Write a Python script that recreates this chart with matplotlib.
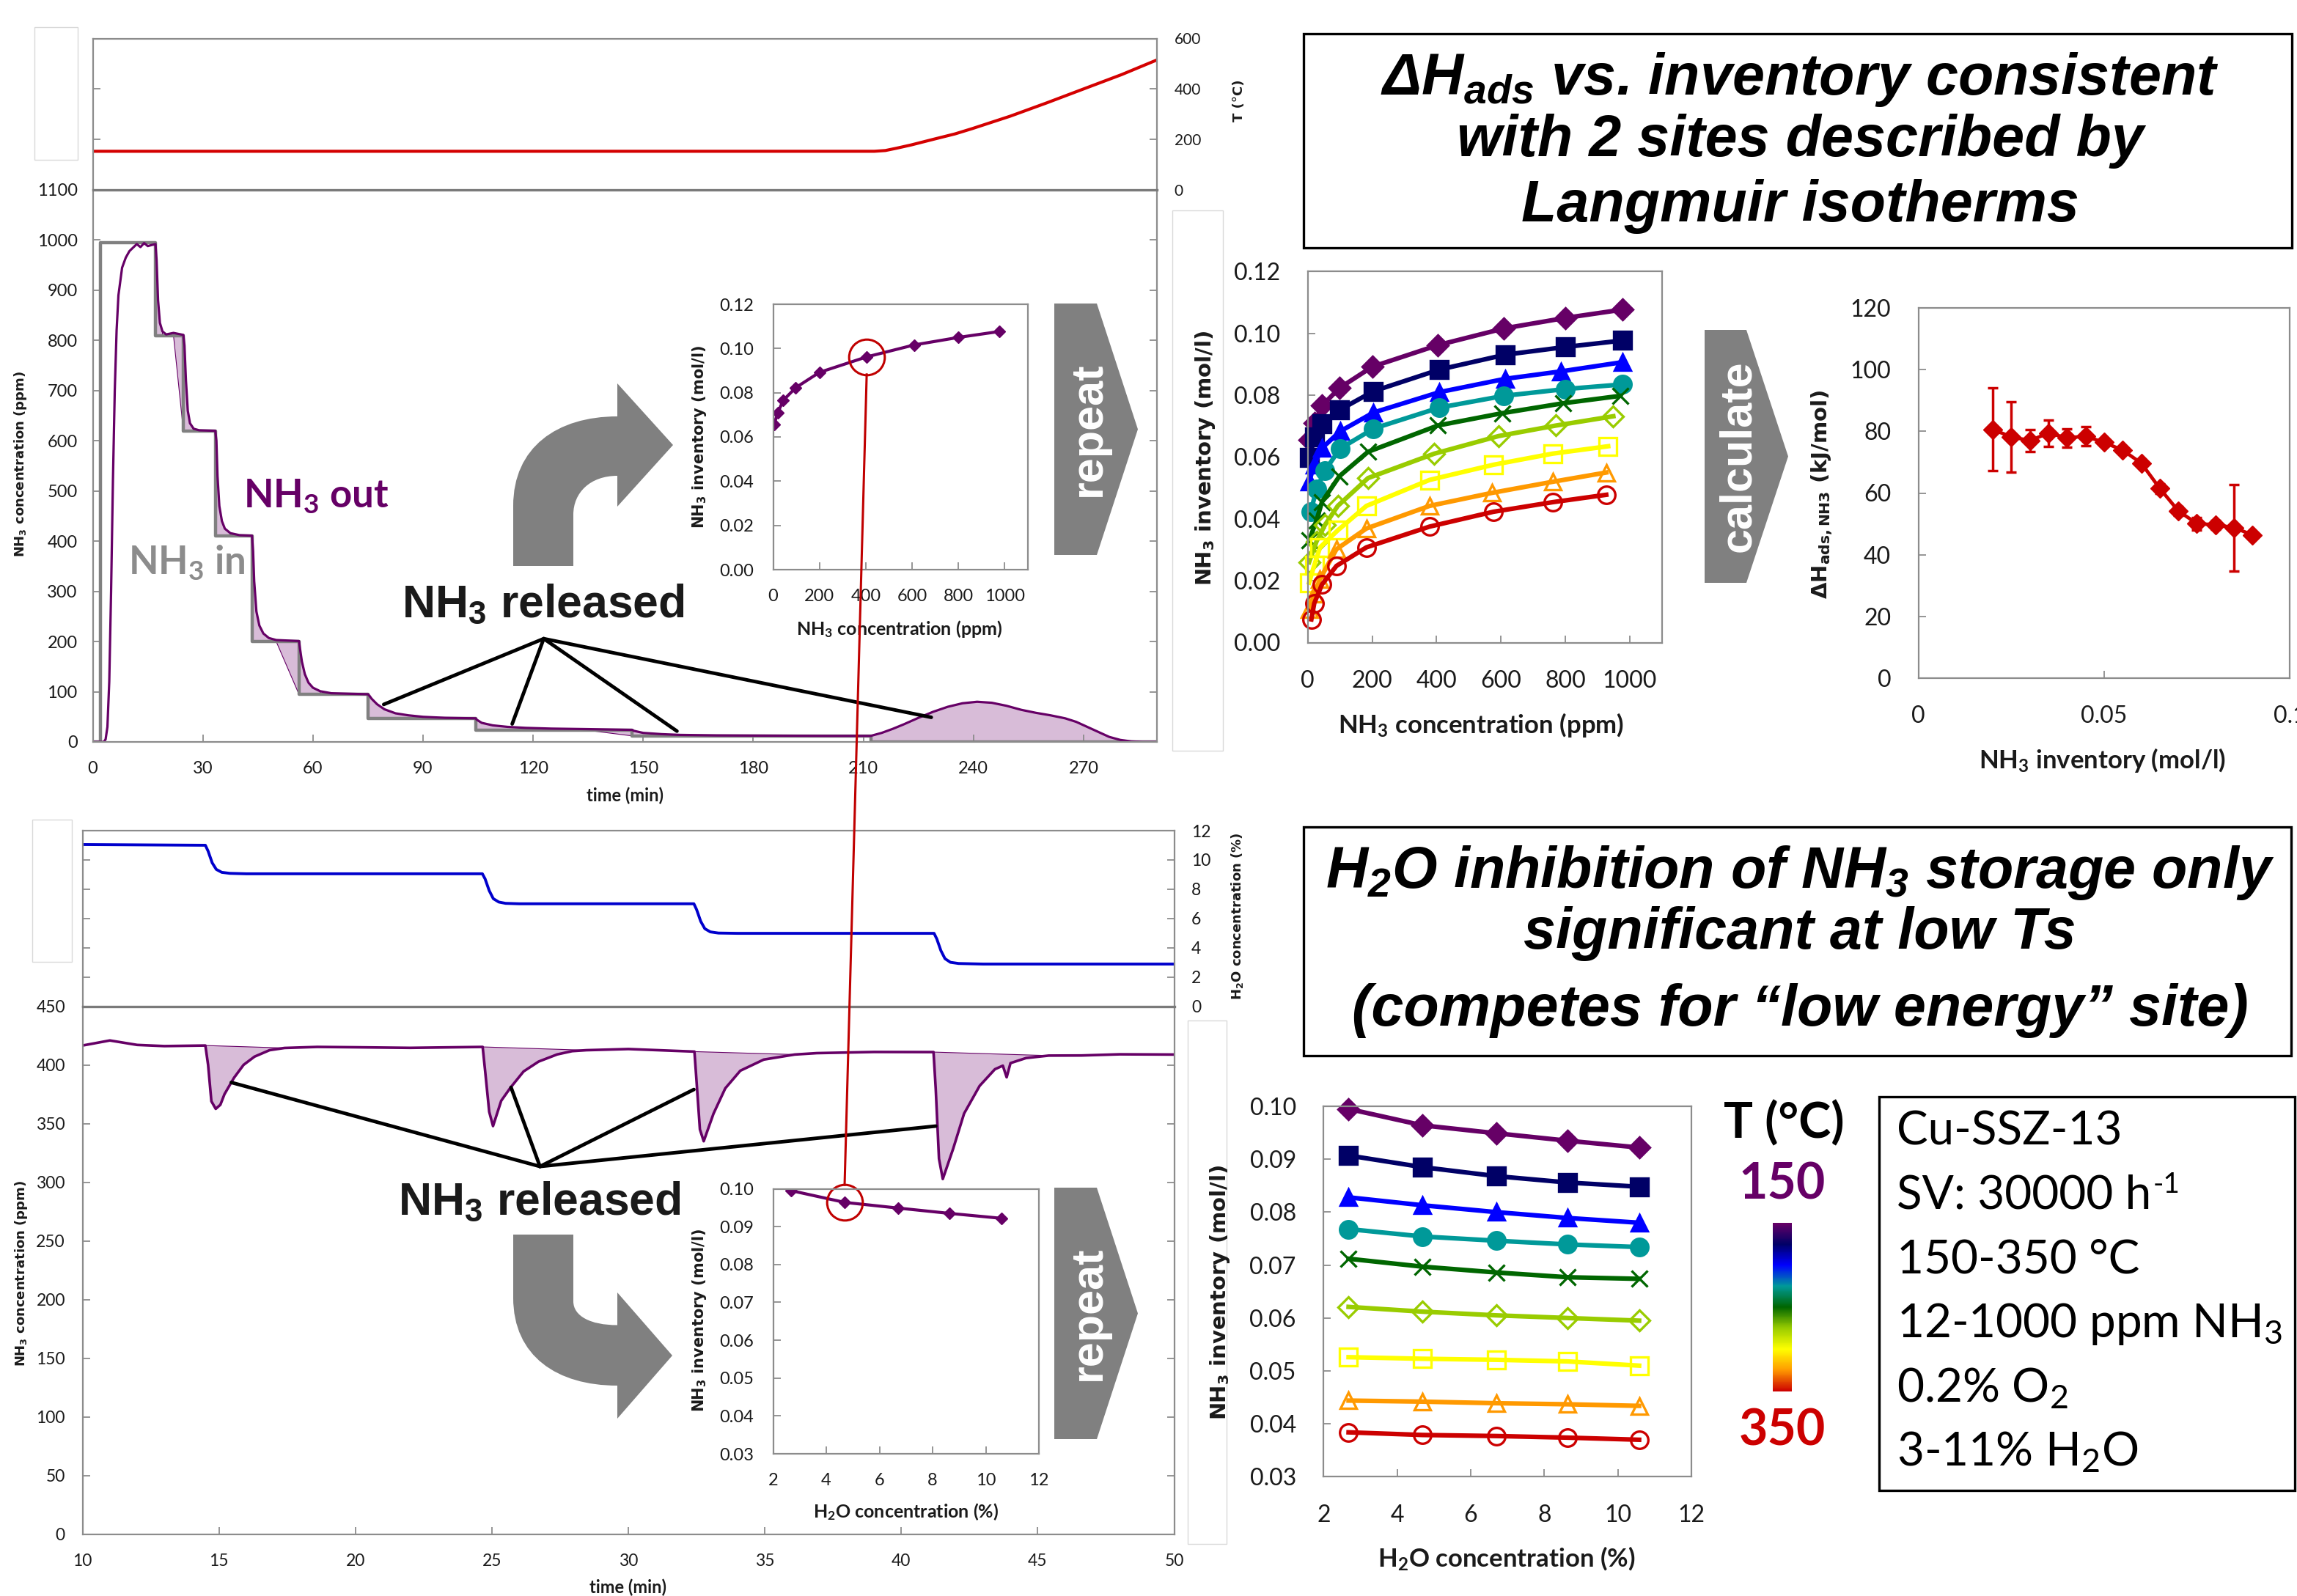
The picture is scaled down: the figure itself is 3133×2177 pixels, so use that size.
import numpy as np
import matplotlib
matplotlib.use("Agg")
import matplotlib.pyplot as plt
from matplotlib.path import Path
from matplotlib.patches import PathPatch, Polygon, Rectangle
from matplotlib.colors import LinearSegmentedColormap, Normalize
from matplotlib.cm import ScalarMappable
from matplotlib.ticker import FormatStrFormatter

plt.rcParams['font.family'] = ['Lato', 'DejaVu Sans']
plt.rcParams['mathtext.default'] = 'regular'

# ---------------- data ----------------
# top-left: step-down NH3 adsorption at 150 C, then TPD
temp_t = [0, 213, 216, 219, 223, 229.5, 235, 239.7, 250, 260, 270, 280.4, 290]
temp_c = [153, 153, 156, 165, 178, 202, 222, 243, 292, 345, 400, 457, 515]

in_t = [0, 2, 17.1, 24.7, 33.4, 43.4, 56.2, 75.0, 104.3, 147.0, 212.0, 290]
in_ppm = [0, 995, 810, 620, 410, 200, 95, 47, 23, 12, 0, 0]

out_t = [0, 3.0, 3.5, 4.0, 4.5, 5.0, 5.5, 6.0, 6.5, 7.0, 8.0, 9.0, 10.0, 11.0, 12.0, 13.0, 14.0, 15.0, 16.0, 17.1,
         17.4, 17.8, 18.3, 19.0, 20.0, 22.0, 24.7,
         25.0, 25.4, 25.9, 26.5, 27.5, 29.0, 33.4,
         33.7, 34.0, 34.5, 35.2, 36.0, 37.5, 40.0, 43.4,
         43.7, 44.0, 44.6, 45.4, 46.5, 48.0, 50.0, 56.2,
         56.5, 57.0, 57.8, 58.8, 60.0, 62.0, 65.0, 75.0,
         75.4, 76.0, 77.5, 79.5, 82.5, 86.0, 90.0, 96.0, 104.3,
         104.7, 106.0, 109.0, 113.0, 118.0, 125.0, 135.0, 147.0,
         147.5, 150.0, 155.0, 160.0, 170.0, 185.0, 200.0, 212.0,
         215.0, 218.0, 221.0, 225.0, 229.0, 233.0, 237.0, 241.0, 245.0, 249.0, 253.0, 257.0,
         261.0, 265.0, 268.0, 271.0, 274.0, 277.0, 280.0, 283.0, 286.0, 290.0]
out_ppm = [0, 0, 5, 30, 120, 300, 520, 700, 820, 890, 945, 965, 978, 985, 992, 986, 994, 988, 990, 992,
           960, 880, 835, 818, 812, 815, 811,
           790, 720, 660, 635, 624, 621, 620,
           600, 530, 470, 440, 425, 416, 412, 411,
           380, 320, 260, 232, 216, 207, 203, 201,
           185, 160, 135, 118, 108, 101, 97, 95,
           92, 86, 75, 65, 57, 53, 50, 48, 47,
           44, 38, 33, 30, 28, 26.5, 25.5, 24,
           22, 18, 15.5, 14, 13, 12.5, 12, 12,
           18, 26, 35, 48, 60, 70, 77, 80, 78, 72, 64, 58,
           53, 47, 40, 30, 20, 10, 4, 1, 0, 0]

# bottom-left: H2O step-down at constant NH3
h2o_t = [10, 14.5, 14.6, 14.75, 14.9, 15.1, 15.4, 16, 24.65, 24.75, 24.9, 25.05, 25.25, 25.5, 26,
         32.4, 32.5, 32.65, 32.8, 33.0, 33.3, 34, 41.2, 41.3, 41.45, 41.6, 41.8, 42.1, 43, 50]
h2o_pct = [11.05, 11.0, 10.6, 9.8, 9.35, 9.15, 9.08, 9.05, 9.05, 8.7, 7.9, 7.35, 7.12, 7.03, 7.0,
           7.0, 6.6, 5.8, 5.3, 5.08, 5.0, 4.98, 4.98, 4.6, 3.8, 3.25, 3.0, 2.92, 2.88, 2.88]

nh3_t = [10, 11.0, 12.0, 13.0, 14.5, 14.6, 14.72, 14.88, 15.05, 15.2, 15.55, 15.9, 16.3, 16.85, 17.4,
         18.6, 20, 22, 24.66, 24.75, 24.9, 25.04, 25.34, 25.68, 26.16, 26.71, 27.39, 27.94, 28.46, 30,
         32.42, 32.5, 32.62, 32.76, 33.12, 33.55, 34.1, 34.96, 36.09, 36.9, 39,
         41.18, 41.26, 41.38, 41.52, 41.9, 42.3, 42.87, 43.43, 43.72, 43.86, 44.0, 44.57, 45.4, 46.6, 48, 50]
nh3_ppm = [416.5, 420.8, 417, 416, 416.5, 400, 369, 362.5, 366, 375, 389, 400, 407, 412.5, 414.4,
           415.3, 415, 414.5, 415.3, 395, 360, 347.8, 369.4, 380.6, 394.4, 402.8, 408.9, 411.7, 412.5, 413.5,
           411.3, 385, 345, 334.9, 358.5, 380, 395, 404.5, 408.8, 410, 411,
           410.9, 380, 320, 302.7, 328.5, 358.5, 382.1, 396.3, 399.3, 389.4, 401.5, 405.8, 407.9, 408, 409, 408.8]
dip_windows = [(14.5, 17.4), (24.66, 28.46), (32.42, 36.09), (41.18, 45.4)]

# right: isotherms, 150 ... 350 C
temps = [150, 175, 200, 225, 250, 275, 300, 325, 350]
iso_conc = [
    [4, 20, 44, 98, 200, 404, 609, 800, 978],
    [4, 20, 44, 98, 204, 409, 613, 800, 978],
    [4, 20, 44, 100, 204, 409, 613, 786, 978],
    [9, 27, 53, 100, 204, 409, 609, 800, 978],
    [4, 27, 44, 98, 187, 404, 604, 793, 971],
    [4, 27, 53, 93, 187, 393, 593, 771, 949],
    [4, 20, 38, 93, 182, 378, 576, 760, 933],
    [4, 20, 38, 89, 182, 378, 571, 760, 927],
    [11, 20, 44, 89, 182, 378, 576, 760, 927],
]
iso_inv = [
    [0.0656, 0.0710, 0.0766, 0.0823, 0.0892, 0.0962, 0.1016, 0.1050, 0.1077],
    [0.0598, 0.0665, 0.0708, 0.0752, 0.0813, 0.0883, 0.0931, 0.0956, 0.0977],
    [0.0520, 0.0575, 0.0629, 0.0683, 0.0744, 0.0810, 0.0853, 0.0877, 0.0907],
    [0.0423, 0.0496, 0.0556, 0.0627, 0.0692, 0.0760, 0.0798, 0.0820, 0.0835],
    [0.0330, 0.0395, 0.0455, 0.0538, 0.0617, 0.0702, 0.0742, 0.0774, 0.0798],
    [0.0260, 0.0327, 0.0380, 0.0442, 0.0532, 0.0611, 0.0668, 0.0702, 0.0732],
    [0.0194, 0.0250, 0.0308, 0.0363, 0.0442, 0.0526, 0.0575, 0.0611, 0.0635],
    [0.0109, 0.0157, 0.0206, 0.0302, 0.0369, 0.0442, 0.0484, 0.0520, 0.0550],
    [0.0075, 0.0127, 0.0188, 0.0248, 0.0308, 0.0375, 0.0423, 0.0454, 0.0478],
]
water_h2o = [2.68, 4.69, 6.70, 8.63, 10.58]
water_inv = [
    [0.0995, 0.0964, 0.0949, 0.0935, 0.0922],
    [0.0907, 0.0885, 0.0868, 0.0856, 0.0848],
    [0.0828, 0.0813, 0.0800, 0.0789, 0.0780],
    [0.0768, 0.0754, 0.0746, 0.0739, 0.0734],
    [0.0712, 0.0697, 0.0686, 0.0677, 0.0674],
    [0.0621, 0.0612, 0.0605, 0.0600, 0.0595],
    [0.0526, 0.0523, 0.0521, 0.0518, 0.0510],
    [0.0444, 0.0442, 0.0439, 0.0437, 0.0434],
    [0.0384, 0.0379, 0.0377, 0.0374, 0.0370],
]
dh_inv = [0.020, 0.025, 0.030, 0.035, 0.040, 0.045, 0.050, 0.055, 0.060, 0.065, 0.070, 0.075, 0.080, 0.085, 0.090]
dh_val = [80.6, 78.2, 77.0, 79.4, 77.9, 78.4, 76.4, 73.9, 69.7, 61.5, 54.2, 50.1, 49.7, 48.8, 46.4]
dh_err = [13.4, 11.4, 3.5, 4.2, 3.0, 3.0, 1.0, 1.0, 1.0, 1.5, 1.5, 2.0, 1.5, 14.0, 1.0]

series_colors = ['#660066', '#000066', '#0000ff', '#009999', '#006600', '#99cc00', '#ffff00', '#ff9900', '#cc0000']
series_markers = ['D', 's', '^', 'o', 'x', 'D', 's', '^', 'o']
marker_sizes = {'D': 14, 's': 17, '^': 16, 'o': 17, 'x': 16}

info_lines = ['Cu-SSZ-13', 'SV: 30000 h', '150-350 °C', '12-1000 ppm NH$_3$', '0.2% O$_2$', '3-11% H$_2$O']

PURPLE = '#660066'
FILL = '#d8bcd8'
SPINE = '#8c8c8c'
TXT = '#1a1a1a'

W, H = 3133, 2177
fig = plt.figure(figsize=(W / 100, H / 100), dpi=100)


def px_axes(x0, y0, x1, y1, z=1):
    ax = fig.add_axes([x0 / W, 1 - y1 / H, (x1 - x0) / W, (y1 - y0) / H])
    ax.set_zorder(z)
    return ax


def excel_style(ax, size, pad):
    for s in ax.spines.values():
        s.set_color(SPINE)
        s.set_linewidth(1.6)
    ax.tick_params(direction='in', length=7, width=1.3, color=SPINE,
                   labelcolor=TXT, labelsize=size, pad=pad)


ov = px_axes(0, 0, W, H, z=2)
ov.set_xlim(0, W)
ov.set_ylim(H, 0)
ov.axis('off')


def label(x, y, s, size, rot=0, fam='Lato', weight='bold', color=TXT, ha='center', va='center', style='normal'):
    return ov.text(x, y, s, fontsize=size, rotation=rot, fontfamily=fam, fontweight=weight,
                   color=color, ha=ha, va=va, fontstyle=style)


# faint placeholder frames left over in the original
for (x0, y0, x1, y1) in [(47, 37, 106, 218), (44, 1118, 98, 1312), (1599, 287, 1668, 1024), (1620, 1392, 1673, 2106)]:
    ov.add_patch(Rectangle((x0, y0), x1 - x0, y1 - y0, facecolor='white', edgecolor='#d9d9d9', lw=1))

# ---------------- top-left ----------------
axT = px_axes(126.5, 52.5, 1578, 259)
excel_style(axT, 15, 17)
axT.plot(temp_t, temp_c, color='#d40000', lw=3)
axT.set_xlim(0, 290)
axT.set_ylim(0, 600)
axT.set_xticks([])
axT.set_yticks([0, 200, 400, 600])
axT.tick_params(axis='y', left=True, right=True, labelleft=False, labelright=True)
axT.spines['bottom'].set_visible(False)

axN = px_axes(126.5, 259, 1578, 1012)
excel_style(axN, 17, 15)
in_t_a = np.array(in_t)
in_p_a = np.array(in_ppm)
ot = np.array(out_t)
op = np.array(out_ppm)
inlet_here = in_p_a[np.searchsorted(in_t_a, ot, side='right') - 1]
axN.plot(in_t, in_ppm, drawstyle='steps-post', color='#808080', lw=3.2)
axN.fill_between(ot, inlet_here, op, where=op > inlet_here + 2, facecolor=FILL, edgecolor=PURPLE, lw=0.8)
axN.plot(ot, op, color=PURPLE, lw=2.3)
axN.set_xlim(0, 290)
axN.set_ylim(0, 1100)
axN.set_xticks(np.arange(0, 271, 30))
axN.set_yticks(np.arange(0, 1101, 100))
axN.tick_params(axis='y', right=True)
axN.tick_params(axis='x', pad=19)
axN.spines['top'].set_color('#7a7a7a')
axN.spines['top'].set_linewidth(2.4)

# released lines, top
apex = (122.9, 205.7)
for end in [(79.3, 74.7), (114.3, 35.8), (159.2, 21.5), (228.5, 49.0)]:
    axN.plot([apex[0], end[0]], [apex[1], end[1]], color='black', lw=3.5, solid_capstyle='round')

label(28.5, 633, 'NH$_3$ concentration (ppm)', 13, rot=90, fam='DejaVu Sans')
label(1690, 137, 'T (°C)', 13, rot=90, fam='DejaVu Sans')
label(852, 1085, 'time (min)', 17)
label(175, 784, 'NH$_3$ in', 38, color='#8c8c8c', ha='left', va='baseline')
label(332, 693, 'NH$_3$ out', 38, color=PURPLE, ha='left', va='baseline')
label(548, 842, 'NH$_3$ released', 45, fam='Liberation Sans', ha='left', va='baseline')

# ---------------- bottom-left ----------------
axW = px_axes(112.6, 1133, 1601.6, 1372.5)
excel_style(axW, 16.5, 17)
axW.plot(h2o_t, h2o_pct, color='#0000cc', lw=2.8)
axW.set_xlim(10, 50)
axW.set_ylim(0, 12)
axW.set_xticks([])
axW.set_yticks(np.arange(0, 13, 2))
axW.tick_params(axis='y', left=True, right=True, labelleft=False, labelright=True)
axW.spines['bottom'].set_visible(False)

axB = px_axes(112.6, 1372.5, 1601.6, 2092.6)
excel_style(axB, 16.5, 17)
nt = np.array(nh3_t)
npm = np.array(nh3_ppm)
for t0, t1 in dip_windows:
    m = (nt >= t0) & (nt <= t1)
    axB.fill(nt[m], npm[m], facecolor=FILL, edgecolor=PURPLE, lw=0.8)
axB.plot(nh3_t, nh3_ppm, color=PURPLE, lw=2.6)
axB.set_xlim(10, 50)
axB.set_ylim(0, 450)
axB.set_xticks(np.arange(10, 51, 5))
axB.set_yticks(np.arange(0, 451, 50))
axB.tick_params(axis='y', right=True)
axB.tick_params(axis='x', pad=19)
axB.spines['top'].set_color('#7a7a7a')
axB.spines['top'].set_linewidth(2.4)

apex2 = (26.76, 313.4)
for end in [(15.45, 385.0), (25.7, 380.8), (32.4, 379.0), (41.26, 347.8)]:
    axB.plot([apex2[0], end[0]], [apex2[1], end[1]], color='black', lw=3.5, solid_capstyle='round')

label(29.5, 1737, 'NH$_3$ concentration (ppm)', 13, rot=90, fam='DejaVu Sans')
label(1687, 1250, 'H$_2$O concentration (%)', 13, rot=90, fam='DejaVu Sans')
label(857, 2165, 'time (min)', 17)
label(543, 1657, 'NH$_3$ released', 45, fam='Liberation Sans', ha='left', va='baseline')

# ---------------- curved arrows & chevrons ----------------
M, L, C4, CP = Path.MOVETO, Path.LINETO, Path.CURVE4, Path.CLOSEPOLY
up_arrow = Path([(700, 772), (700, 690), (700, 610), (760, 568), (842, 568), (842, 523), (918, 607),
                 (842, 691), (842, 649), (805, 649), (782, 672), (782, 702), (782, 772), (700, 772)],
                [M, L, C4, C4, C4, L, L, L, L, C4, C4, C4, L, CP])
down_arrow = Path([(700, 1684), (782, 1684), (782, 1775), (782, 1795), (805, 1807.5), (842, 1807.5),
                   (842, 1763), (917, 1849), (842, 1935), (842, 1890), (760, 1890), (700, 1850), (700, 1770),
                   (700, 1684)],
                  [M, L, L, C4, C4, C4, L, L, L, L, C4, C4, C4, CP])
for p in (up_arrow, down_arrow):
    ov.add_patch(PathPatch(p, facecolor='#808080', edgecolor='none'))


def chevron(x0, x1, tip, y0, y1, word):
    ym = (y0 + y1) / 2
    ov.add_patch(Polygon([(x0, y0), (x1, y0), (tip, ym), (x1, y1), (x0, y1)], closed=True,
                         facecolor='#808080', edgecolor='none'))
    label((x0 + x1) / 2 + 18, ym, word, 44, rot=90, fam='Liberation Sans', color='white')


chevron(1438, 1496, 1552, 414, 757, 'repeat')
chevron(1438, 1496, 1552, 1620, 1963, 'repeat')
chevron(2325, 2382, 2439, 450, 795, 'calculate')

# ---------------- insets ----------------
axI1 = px_axes(1054.5, 415, 1402, 777, z=3)
excel_style(axI1, 17, 19)
axI1.plot(iso_conc[0], iso_inv[0], color=PURPLE, lw=3, marker='D', ms=8)
axI1.plot(iso_conc[0][5], iso_inv[0][5], 'o', ms=35, mfc='none', mec='#c00000', mew=2.2, clip_on=False)
axI1.set_xlim(0, 1100)
axI1.set_ylim(0, 0.12)
axI1.set_xticks(np.arange(0, 1001, 200))
axI1.set_yticks(np.arange(0, 0.121, 0.02))
axI1.yaxis.set_major_formatter(FormatStrFormatter('%.2f'))
label(953.6, 595.5, 'NH$_3$ inventory (mol/l)', 15, rot=90, fam='DejaVu Sans')
label(1227, 857.5, 'NH$_3$ concentration (ppm)', 18)

axI2 = px_axes(1054.5, 1621.5, 1417, 1983, z=3)
excel_style(axI2, 17, 19)
axI2.plot(water_h2o, water_inv[0], color=PURPLE, lw=3, marker='D', ms=8)
axI2.plot(water_h2o[1], water_inv[0][1], 'o', ms=35, mfc='none', mec='#c00000', mew=2.2, clip_on=False)
axI2.set_xlim(2, 12)
axI2.set_ylim(0.03, 0.10)
axI2.set_xticks(np.arange(2, 13, 2))
axI2.set_yticks(np.arange(0.03, 0.1001, 0.01))
axI2.yaxis.set_major_formatter(FormatStrFormatter('%.2f'))
label(953.6, 1800.5, 'NH$_3$ inventory (mol/l)', 15, rot=90, fam='DejaVu Sans')
label(1236, 2062.5, 'H$_2$O concentration (%)', 18)

# ---------------- right side ----------------
title1 = ['ΔH$_{ads}$ vs. inventory consistent', 'with 2 sites described by', 'Langmuir isotherms']
for s, yb in zip(title1, [129, 213, 302]):
    label(2455, yb, s, 57, fam='Liberation Sans', style='italic', va='baseline', color='black')
ov.add_patch(Rectangle((1778, 46), 1348, 292, fill=False, edgecolor='black', lw=2.4))

title2 = ['H$_2$O inhibition of NH$_3$ storage only', 'significant at low Ts', '(competes for “low energy” site)']
for s, yb in zip(title2, [1211, 1294, 1399]):
    label(2455, yb, s, 57, fam='Liberation Sans', style='italic', va='baseline', color='black')
ov.add_patch(Rectangle((1778, 1128), 1347, 312, fill=False, edgecolor='black', lw=2.4))


def draw_series(ax, xs_list, ys_list, lw):
    for i, (xs, ys) in enumerate(zip(xs_list, ys_list)):
        mk = series_markers[i]
        col = series_colors[i]
        face = col if (i < 4 and mk != 'x') else 'none'
        ax.plot(xs, ys, color=col, lw=lw, marker=mk, ms=marker_sizes[mk], mfc=face, mec=col,
                mew=2.4, clip_on=False)


axG = px_axes(1783.8, 370.4, 2266.8, 876.5, z=3)
excel_style(axG, 23, 27)
draw_series(axG, iso_conc, iso_inv, 4.5)
axG.set_xlim(0, 1100)
axG.set_ylim(0, 0.12)
axG.set_xticks(np.arange(0, 1001, 200))
axG.set_yticks(np.arange(0, 0.121, 0.02))
axG.yaxis.set_major_formatter(FormatStrFormatter('%.2f'))
label(1644, 625, 'NH$_3$ inventory (mol/l)', 21, rot=90, fam='DejaVu Sans')
label(2020, 989, 'NH$_3$ concentration (ppm)', 25)

axH = px_axes(2616.8, 420, 3123, 925, z=3)
excel_style(axH, 23, 27)
axH.errorbar(dh_inv, dh_val, yerr=dh_err, color='#cc0000', lw=3.4, marker='D', ms=13,
             capsize=5, capthick=2.5, elinewidth=2.5)
axH.set_xlim(0, 0.1)
axH.set_ylim(0, 120)
axH.set_xticks([0, 0.05, 0.1])
axH.set_xticklabels(['0', '0.05', '0.1'])
axH.set_yticks(np.arange(0, 121, 20))
label(2485, 674, 'ΔH$_{ads,NH3}$ (kJ/mol)', 21, rot=90, fam='DejaVu Sans')
label(2868, 1037, 'NH$_3$ inventory (mol/l)', 25)

axWt = px_axes(1805.3, 1509, 2306.9, 2014.4, z=3)
excel_style(axWt, 23, 27)
draw_series(axWt, [water_h2o] * len(water_inv), water_inv, 4.5)
axWt.set_xlim(2, 12)
axWt.set_ylim(0.03, 0.10)
axWt.set_xticks(np.arange(2, 13, 2))
axWt.set_yticks(np.arange(0.03, 0.1001, 0.01))
axWt.yaxis.set_major_formatter(FormatStrFormatter('%.2f'))
label(1663.5, 1763, 'NH$_3$ inventory (mol/l)', 21, rot=90, fam='DejaVu Sans')
label(2055, 2126, 'H$_2$O concentration (%)', 25)

# temperature colour bar
norm = Normalize(temps[0], temps[-1])
cmap = LinearSegmentedColormap.from_list('temp', [(norm(t), c) for t, c in zip(temps, series_colors)])
cax = px_axes(2418, 1668, 2444, 1898, z=3)
cb = fig.colorbar(ScalarMappable(norm=norm, cmap=cmap), cax=cax)
cb.set_ticks([])
cb.outline.set_visible(False)
cax.invert_yaxis()
label(2433, 1533, 'T (°C)', 48, color='black')
label(2431, 1616, str(temps[0]), 49, color=series_colors[0])
label(2431, 1952, str(temps[-1]), 49, color=series_colors[-1])

# conditions box
ov.add_patch(Rectangle((2563, 1496), 567, 537, fill=False, edgecolor='black', lw=2.4))
info_txt = []
for i, s in enumerate(info_lines):
    info_txt.append(label(2587, 1561 + i * 87.7, s, 46, weight='normal', color='black', ha='left', va='baseline'))
renderer = fig.canvas.get_renderer()
bb = info_txt[1].get_window_extent(renderer=renderer)
label(bb.x1 + 2, 1561 + 87.7 - 22, '-1', 28, weight='normal', color='black', ha='left', va='baseline')

# red link between the circled points
ovTop = px_axes(0, 0, W, H, z=5)
ovTop.set_xlim(0, W)
ovTop.set_ylim(H, 0)
ovTop.axis('off')
p1 = axI1.transData.transform((iso_conc[0][5], iso_inv[0][5]))
p2 = axI2.transData.transform((water_h2o[1], water_inv[0][1]))
r = 24
ovTop.plot([p1[0], p2[0]], [H - p1[1] + r, H - p2[1] - r], color='#c00000', lw=2.2)

fig.savefig('out.png', dpi=100)
